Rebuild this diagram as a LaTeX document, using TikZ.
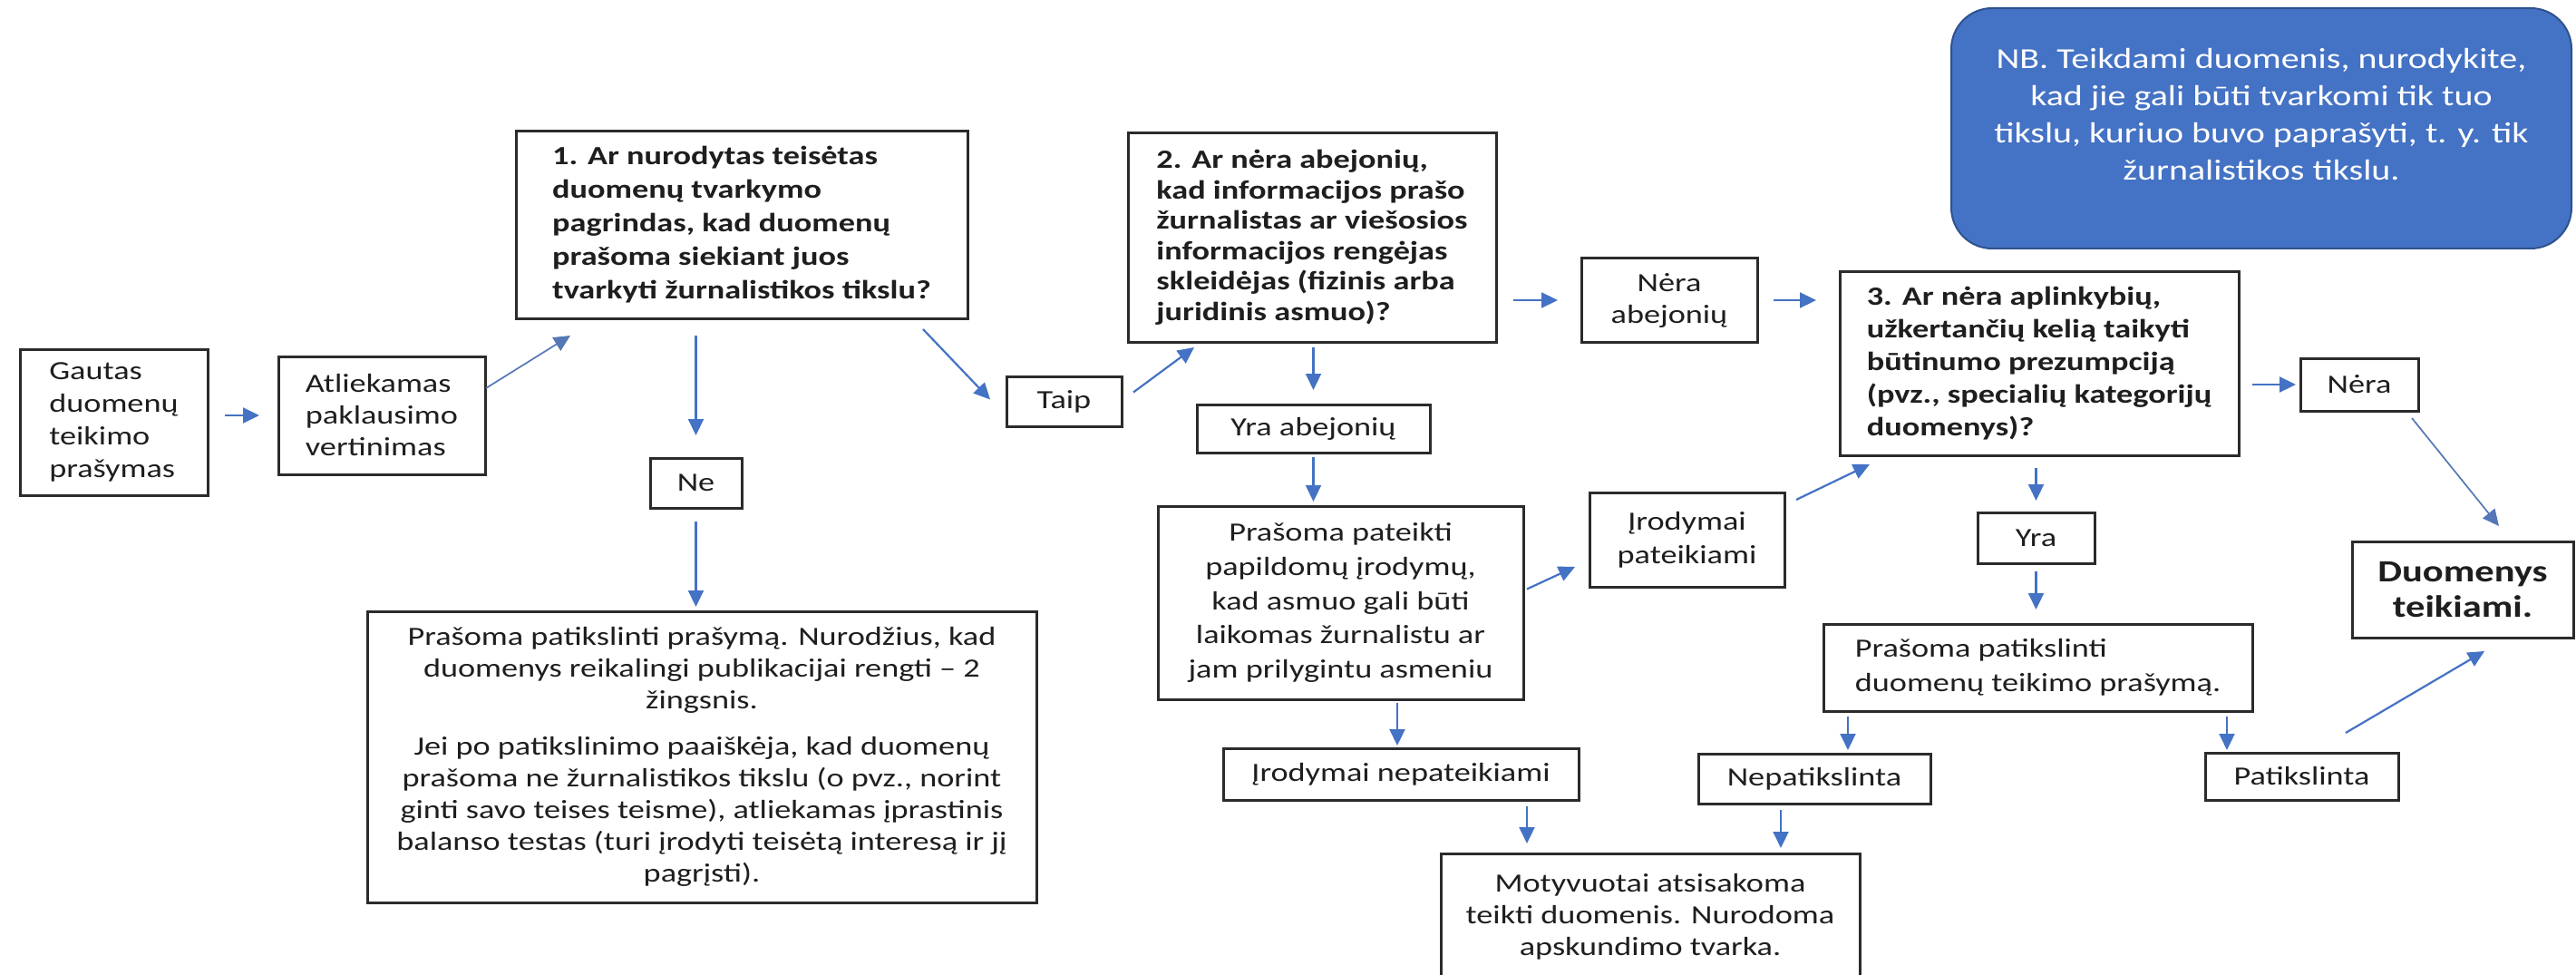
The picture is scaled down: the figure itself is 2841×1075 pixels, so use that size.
\documentclass[tikz,border=0pt]{standalone}
\usepackage{fontspec}
\setmainfont{Carlito}[FakeStretch=1.25]
\usetikzlibrary{arrows.meta,calc}
\hyphenpenalty=10000
\definecolor{bx}{HTML}{2B2B2B}
\definecolor{tx}{HTML}{1E1E1E}
\definecolor{ar}{HTML}{4472C4}
\definecolor{arthin}{HTML}{5577B5}
\definecolor{nbfill}{HTML}{4472C4}
\definecolor{nbdraw}{HTML}{2F528F}
\tikzset{
  box/.style={draw=bx, line width=3pt, inner sep=0pt, outer sep=0pt, text=tx, align=center, font=\fontsize{29}{35}\selectfont},
  qbox/.style={box, align=left, font=\fontsize{29}{36}\selectfont\bfseries},
  arr/.style={draw=ar, line width=2.2pt, -{Triangle[length=18pt,width=17pt]}},
  arrlight/.style={arr, draw=arthin, line width=1.7pt},
}
\begin{document}
\begin{tikzpicture}[x=1pt,y=-1pt]
\useasboundingbox (0,0) rectangle (2841,1075);

% nodes
\node[box, align=left, minimum width=207pt, minimum height=161pt, font=\fontsize{29}{36}\selectfont] (gautas) at (125.5,465.5) {Gautas\\duomenų\\teikimo\\prašymas};
\node[box, align=left, minimum width=228pt, minimum height=130pt, font=\fontsize{29}{35}\selectfont] (atl) at (421,458) {Atliekamas\\paklausimo\\vertinimas};
\node[qbox, minimum width=498pt, minimum height=206pt, font=\fontsize{29}{37}\selectfont\bfseries] (box1) at (818,248) {1. Ar nurodytas teisėtas\\duomenų tvarkymo\\pagrindas, kad duomenų\\prašoma siekiant juos\\tvarkyti žurnalistikos tikslu?};
\node[box, minimum width=101pt, minimum height=55pt] (ne) at (767.5,532.5) {Ne};
\node[box, minimum width=738pt, minimum height=321pt] (big) at (774,834.5) {Prašoma patikslinti prašymą. Nurodžius, kad\\duomenys reikalingi publikacijai rengti – 2\\žingsnis.\\[16pt]Jei po patikslinimo paaiškėja, kad duomenų\\prašoma ne žurnalistikos tikslu (o pvz., norint\\ginti savo teises teisme), atliekamas įprastinis\\balanso testas (turi įrodyti teisėtą interesą ir jį\\pagrįsti).};
\node[box, minimum width=127pt, minimum height=55pt] (taip) at (1173.5,442.5) {Taip};
\node[qbox, minimum width=406pt, minimum height=230pt, font=\fontsize{29}{33.5}\selectfont\bfseries] (box2) at (1447,262) {2. Ar nėra abejonių,\\kad informacijos prašo\\žurnalistas ar viešosios\\informacijos rengėjas\\skleidėjas (fizinis arba\\juridinis asmuo)?};
\node[box, minimum width=257pt, minimum height=53pt] (yab) at (1448.5,472.5) {Yra abejonių};
\node[box, minimum width=403pt, minimum height=213pt, font=\fontsize{29}{37.7}\selectfont] (pp) at (1478.5,664.5) {Prašoma pateikti\\papildomų įrodymų,\\kad asmuo gali būti\\laikomas žurnalistu ar\\jam prilygintu asmeniu};
\node[box, minimum width=215pt, minimum height=104pt, font=\fontsize{29}{37}\selectfont] (ip) at (1860.5,595) {Įrodymai\\pateikiami};
\node[box, minimum width=392pt, minimum height=57pt] (inp) at (1545,853.5) {Įrodymai nepateikiami};
\node[box, minimum width=194pt, minimum height=92pt] (nab) at (1841,331) {Nėra\\abejonių};
\node[qbox, minimum width=440pt, minimum height=202pt] (box3) at (2249,401) {3. Ar nėra aplinkybių,\\užkertančių kelią taikyti\\būtinumo prezumpciją\\(pvz., specialių kategorijų\\duomenys)?};
\node[box, minimum width=130pt, minimum height=58pt] (nera) at (2602,424) {Nėra};
\node[box, minimum width=129pt, minimum height=56pt] (yra) at (2245.5,593) {Yra};
\node[box, align=left, minimum width=473pt, minimum height=96pt, font=\fontsize{29}{38}\selectfont] (ppd) at (2247.5,736) {Prašoma patikslinti\\duomenų teikimo prašymą.};
\node[box, minimum width=256pt, minimum height=55pt] (nep) at (2001,858.5) {Nepatikslinta};
\node[box, minimum width=213pt, minimum height=52pt] (pat) at (2538.5,856) {Patikslinta};
\node[box, minimum width=244pt, minimum height=106pt, font=\fontsize{34}{39}\selectfont\bfseries] (duo) at (2716,650) {Duomenys\\teikiami.};
\node[box, minimum width=462pt, minimum height=139pt] (mot) at (1820,1010.5) {Motyvuotai atsisakoma\\teikti duomenis. Nurodoma\\apskundimo tvarka.};
\node[draw=nbdraw, line width=2pt, fill=nbfill, rounded corners=45pt, text=white, align=center, inner sep=0pt, outer sep=0pt, minimum width=684pt, minimum height=265pt, font=\fontsize{32}{41}\selectfont] (nb) at (2494,141.5) {NB. Teikdami duomenis, nurodykite,\\kad jie gali būti tvarkomi tik tuo\\tikslu, kuriuo buvo paprašyti, t. y. tik\\žurnalistikos tikslu.\rule[-31pt]{0pt}{31pt}};

% connectors
\draw[arr, shorten <=19pt, shorten >=21pt] (gautas.east |- atl.west) -- (atl.west);
\draw[arrlight] ($(atl.east)+(1,-30)$) -- ($(box1.south west)+(60,19)$);
\draw[arr, shorten <=19pt, shorten >=25pt] (ne.north |- box1.south) -- (ne.north);
\draw[arr, shorten <=15pt, shorten >=5pt] (ne.south) -- (ne.south |- big.north);
\draw[arr] ($(box1.south east)+(-49,12)$) -- ($(taip.west)+(-18,-2)$);
\draw[arr] ($(taip.east)+(13,-10)$) -- ($(box2.south west)+(73,6)$);
\draw[arr, shorten <=19pt, shorten >=26pt] (box2.east |- nab.west) -- (nab.west);
\draw[arr, shorten <=18pt, shorten >=26pt] (nab.east) -- (nab.east -| box3.west);
\draw[arr, shorten <=6pt, shorten >=16pt] (yab.north |- box2.south) -- (yab.north);
\draw[arr, shorten <=5pt, shorten >=5pt] (yab.south) -- (yab.south |- pp.north);
\draw[arr] ($(pp.east)+(4,-15)$) -- ($(ip.west)+(-16,30)$);
\draw[arr] ($(ip.north east)+(13,8)$) -- ($(box3.south west)+(33,10)$);
\draw[arr, shorten <=4pt, shorten >=3pt] ($(pp.south west)+(264,0)$) -- ($(inp.north west)+(192,0)$);
\draw[arr, shorten <=7pt, shorten >=11pt] ($(inp.south east)+(-57,0)$) -- ($(mot.north west)+(95,0)$);
\draw[arr, shorten <=7pt, shorten >=6pt] ($(nep.south west)+(91,0)$) -- ($(mot.north west)+(375,0)$);
\draw[arr, shorten <=15pt, shorten >=5pt] (box3.east |- nera.west) -- (nera.west);
\draw[arr, shorten <=14pt, shorten >=13pt] (yra.north |- box3.south) -- (yra.north);
\draw[arr, shorten <=9pt, shorten >=16pt] (yra.south) -- (yra.south |- ppd.north);
\draw[arr, shorten <=6pt, shorten >=4pt] ($(ppd.south west)+(27,0)$) -- ($(nep.north east)+(-91,0)$);
\draw[arr, shorten <=6pt, shorten >=3pt] ($(ppd.south west)+(445,0)$) -- ($(pat.north west)+(24,0)$);
\draw[arr] ($(pat.north east)+(-58,-22)$) -- ($(duo.south west)+(146,15)$);
\draw[arrlight] ($(nera.south east)+(-7,8)$) -- ($(duo.north west)+(162,-17)$);
\end{tikzpicture}
\end{document}
